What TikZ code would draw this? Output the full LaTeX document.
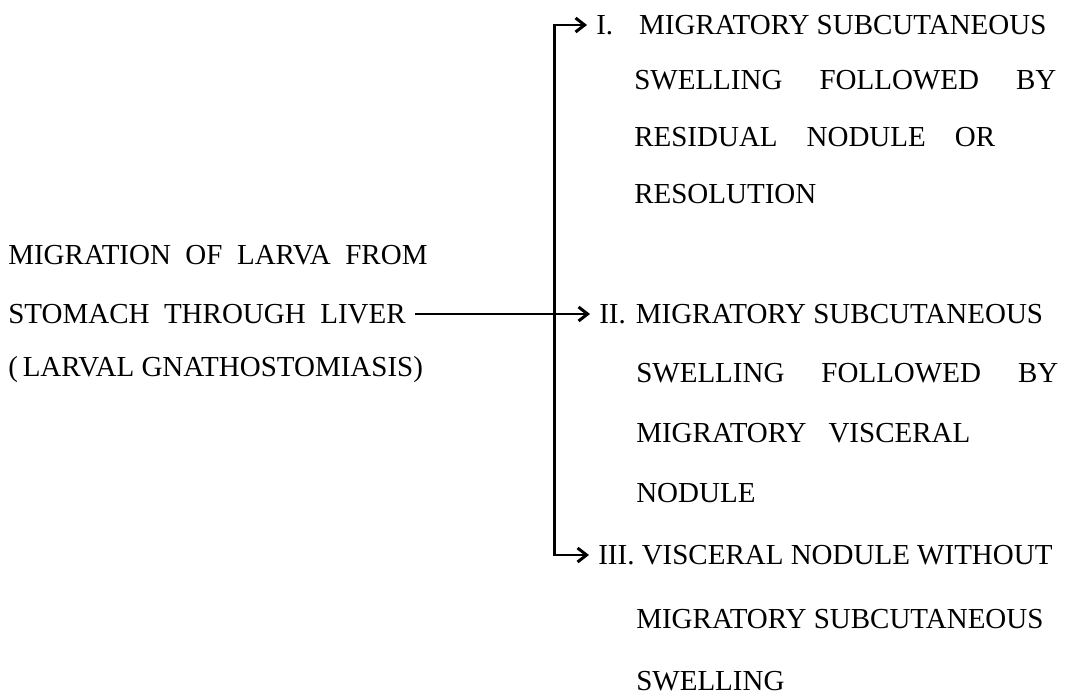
\documentclass[tikz,border=0pt]{standalone}
\usepackage{fontspec}
\setmainfont{Liberation Serif}
\usetikzlibrary{arrows.meta}
\def\gapI{13pt}
\def\gapII{5pt}
\def\linewd{211pt}
\newcommand{\txtfont}{\fontsize{14.5}{28.5}\selectfont}
\tikzstyle{txt}=[anchor=west,inner xsep=4pt,inner ysep=0pt,font=\txtfont]
\tikzset{blk/.style={txt,anchor=north west,align=left,font={\fontsize{14.5}{#1}\selectfont}}}
\newcommand{\newItem}[4]{\node[#3](#1) at #4 {#2};}

\begin{document}
\begin{tikzpicture}[x=0.5pt,y=-0.5pt,
    >={Straight Barb[length=4.5pt,width=7pt,line width=1.5pt]},
    line width=1.3pt  %trunk and arrows
    ]
    \useasboundingbox (0,0) rectangle (1071,696);
    % left side
    \newItem{lar1}{MIGRATION\enspace OF\enspace LARVA\enspace FROM}{txt}{(-1,255)}
    \newItem{lar2}{STOMACH\enspace THROUGH\enspace LIVER}{txt}{(-1,314)}
    \newItem{lar3}{(\,LARVAL GNATHOSTOMIASIS)}{txt}{(-1,370)}
    % right side
    \newItem{hI}{I.\hspace{\gapI}MIGRATORY SUBCUTANEOUS}{txt}{(587,25)}
    \newItem{rI}{\makebox[\linewd][s]{SWELLING FOLLOWED BY}\\RESIDUAL\quad NODULE\quad OR\\RESOLUTION}{blk=28.5}{(625,69)}
    \newItem{hII}{II.\hspace{\gapII}MIGRATORY SUBCUTANEOUS}{txt}{(590,314)}
    \newItem{rII}{\makebox[\linewd][s]{SWELLING FOLLOWED BY}\\MIGRATORY\hspace{11pt}VISCERAL\\NODULE}{blk=30}{(627,362)}
    \newItem{hIII}{III. VISCERAL NODULE WITHOUT}{txt}{(589,555)}
    \newItem{rIII}{MIGRATORY SUBCUTANEOUS\\SWELLING}{blk=31}{(627,608)}
    \coordinate (trunk) at (554.5,300);
    \draw[<->] (hI.west) -| (trunk) |- (hIII.west);
    \draw[->] (lar2.east) -- (hII.west);
\end{tikzpicture}
\end{document}
